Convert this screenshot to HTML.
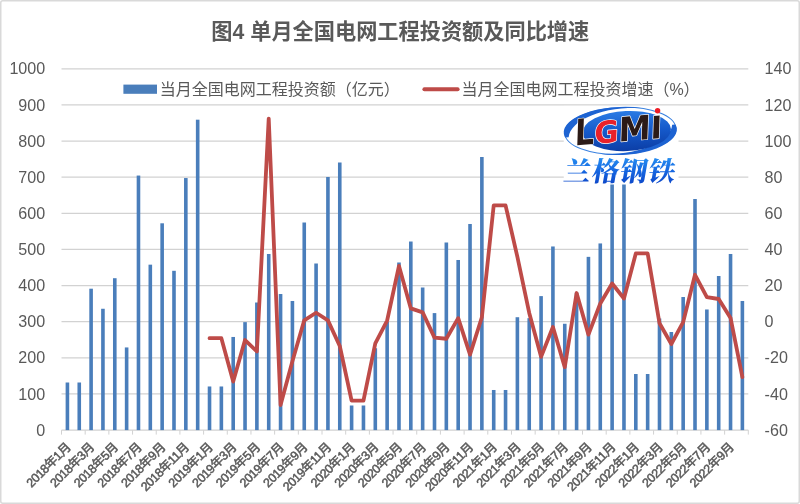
<!DOCTYPE html>
<html lang="zh-CN"><head><meta charset="utf-8"><title>图4 单月全国电网工程投资额及同比增速</title>
<style>
html,body{margin:0;padding:0;background:#fff;}
body{width:800px;height:504px;overflow:hidden;}
svg{display:block;}
</style></head><body>
<svg width="800" height="504" viewBox="0 0 800 504" font-family='"Liberation Sans","Noto Sans CJK SC",sans-serif'>
<rect x="0.75" y="0.75" width="798.5" height="502.5" rx="2" fill="#fff" stroke="#d9d9d9" stroke-width="1.5"/>
<line x1="61.5" x2="748.3" y1="430.10" y2="430.10" stroke="#d2d2d2" stroke-width="1.25"/>
<line x1="61.5" x2="748.3" y1="393.97" y2="393.97" stroke="#d2d2d2" stroke-width="1.25"/>
<line x1="61.5" x2="748.3" y1="357.84" y2="357.84" stroke="#d2d2d2" stroke-width="1.25"/>
<line x1="61.5" x2="748.3" y1="321.71" y2="321.71" stroke="#d2d2d2" stroke-width="1.25"/>
<line x1="61.5" x2="748.3" y1="285.58" y2="285.58" stroke="#d2d2d2" stroke-width="1.25"/>
<line x1="61.5" x2="748.3" y1="249.45" y2="249.45" stroke="#d2d2d2" stroke-width="1.25"/>
<line x1="61.5" x2="748.3" y1="213.32" y2="213.32" stroke="#d2d2d2" stroke-width="1.25"/>
<line x1="61.5" x2="748.3" y1="177.19" y2="177.19" stroke="#d2d2d2" stroke-width="1.25"/>
<line x1="61.5" x2="748.3" y1="141.06" y2="141.06" stroke="#d2d2d2" stroke-width="1.25"/>
<line x1="61.5" x2="748.3" y1="104.93" y2="104.93" stroke="#d2d2d2" stroke-width="1.25"/>
<line x1="61.5" x2="748.3" y1="68.80" y2="68.80" stroke="#d2d2d2" stroke-width="1.25"/>
<line x1="61.50" x2="61.50" y1="430.1" y2="434.6" stroke="#d2d2d2" stroke-width="1"/>
<line x1="85.18" x2="85.18" y1="430.1" y2="434.6" stroke="#d2d2d2" stroke-width="1"/>
<line x1="108.87" x2="108.87" y1="430.1" y2="434.6" stroke="#d2d2d2" stroke-width="1"/>
<line x1="132.55" x2="132.55" y1="430.1" y2="434.6" stroke="#d2d2d2" stroke-width="1"/>
<line x1="156.23" x2="156.23" y1="430.1" y2="434.6" stroke="#d2d2d2" stroke-width="1"/>
<line x1="179.91" x2="179.91" y1="430.1" y2="434.6" stroke="#d2d2d2" stroke-width="1"/>
<line x1="203.60" x2="203.60" y1="430.1" y2="434.6" stroke="#d2d2d2" stroke-width="1"/>
<line x1="227.28" x2="227.28" y1="430.1" y2="434.6" stroke="#d2d2d2" stroke-width="1"/>
<line x1="250.96" x2="250.96" y1="430.1" y2="434.6" stroke="#d2d2d2" stroke-width="1"/>
<line x1="274.64" x2="274.64" y1="430.1" y2="434.6" stroke="#d2d2d2" stroke-width="1"/>
<line x1="298.33" x2="298.33" y1="430.1" y2="434.6" stroke="#d2d2d2" stroke-width="1"/>
<line x1="322.01" x2="322.01" y1="430.1" y2="434.6" stroke="#d2d2d2" stroke-width="1"/>
<line x1="345.69" x2="345.69" y1="430.1" y2="434.6" stroke="#d2d2d2" stroke-width="1"/>
<line x1="369.38" x2="369.38" y1="430.1" y2="434.6" stroke="#d2d2d2" stroke-width="1"/>
<line x1="393.06" x2="393.06" y1="430.1" y2="434.6" stroke="#d2d2d2" stroke-width="1"/>
<line x1="416.74" x2="416.74" y1="430.1" y2="434.6" stroke="#d2d2d2" stroke-width="1"/>
<line x1="440.42" x2="440.42" y1="430.1" y2="434.6" stroke="#d2d2d2" stroke-width="1"/>
<line x1="464.11" x2="464.11" y1="430.1" y2="434.6" stroke="#d2d2d2" stroke-width="1"/>
<line x1="487.79" x2="487.79" y1="430.1" y2="434.6" stroke="#d2d2d2" stroke-width="1"/>
<line x1="511.47" x2="511.47" y1="430.1" y2="434.6" stroke="#d2d2d2" stroke-width="1"/>
<line x1="535.16" x2="535.16" y1="430.1" y2="434.6" stroke="#d2d2d2" stroke-width="1"/>
<line x1="558.84" x2="558.84" y1="430.1" y2="434.6" stroke="#d2d2d2" stroke-width="1"/>
<line x1="582.52" x2="582.52" y1="430.1" y2="434.6" stroke="#d2d2d2" stroke-width="1"/>
<line x1="606.20" x2="606.20" y1="430.1" y2="434.6" stroke="#d2d2d2" stroke-width="1"/>
<line x1="629.89" x2="629.89" y1="430.1" y2="434.6" stroke="#d2d2d2" stroke-width="1"/>
<line x1="653.57" x2="653.57" y1="430.1" y2="434.6" stroke="#d2d2d2" stroke-width="1"/>
<line x1="677.25" x2="677.25" y1="430.1" y2="434.6" stroke="#d2d2d2" stroke-width="1"/>
<line x1="700.93" x2="700.93" y1="430.1" y2="434.6" stroke="#d2d2d2" stroke-width="1"/>
<line x1="724.62" x2="724.62" y1="430.1" y2="434.6" stroke="#d2d2d2" stroke-width="1"/>
<line x1="748.30" x2="748.30" y1="430.1" y2="434.6" stroke="#d2d2d2" stroke-width="1"/>
<rect x="65.62" y="382.50" width="3.6" height="47.60" fill="#4a7ebb"/>
<rect x="77.46" y="382.50" width="3.6" height="47.60" fill="#4a7ebb"/>
<rect x="89.30" y="288.70" width="3.6" height="141.40" fill="#4a7ebb"/>
<rect x="101.14" y="308.76" width="3.6" height="121.34" fill="#4a7ebb"/>
<rect x="112.99" y="278.21" width="3.6" height="151.89" fill="#4a7ebb"/>
<rect x="124.83" y="347.44" width="3.6" height="82.66" fill="#4a7ebb"/>
<rect x="136.67" y="175.55" width="3.6" height="254.55" fill="#4a7ebb"/>
<rect x="148.51" y="264.66" width="3.6" height="165.44" fill="#4a7ebb"/>
<rect x="160.35" y="223.30" width="3.6" height="206.80" fill="#4a7ebb"/>
<rect x="172.19" y="270.80" width="3.6" height="159.30" fill="#4a7ebb"/>
<rect x="184.03" y="178.04" width="3.6" height="252.06" fill="#4a7ebb"/>
<rect x="195.88" y="119.69" width="3.6" height="310.41" fill="#4a7ebb"/>
<rect x="207.72" y="386.48" width="3.6" height="43.62" fill="#4a7ebb"/>
<rect x="219.56" y="386.48" width="3.6" height="43.62" fill="#4a7ebb"/>
<rect x="231.40" y="336.96" width="3.6" height="93.14" fill="#4a7ebb"/>
<rect x="243.24" y="322.13" width="3.6" height="107.97" fill="#4a7ebb"/>
<rect x="255.08" y="302.51" width="3.6" height="127.59" fill="#4a7ebb"/>
<rect x="266.92" y="253.99" width="3.6" height="176.11" fill="#4a7ebb"/>
<rect x="278.77" y="294.01" width="3.6" height="136.09" fill="#4a7ebb"/>
<rect x="290.61" y="300.99" width="3.6" height="129.11" fill="#4a7ebb"/>
<rect x="302.45" y="222.51" width="3.6" height="207.59" fill="#4a7ebb"/>
<rect x="314.29" y="263.50" width="3.6" height="166.60" fill="#4a7ebb"/>
<rect x="326.13" y="176.99" width="3.6" height="253.11" fill="#4a7ebb"/>
<rect x="337.97" y="162.50" width="3.6" height="267.60" fill="#4a7ebb"/>
<rect x="349.81" y="405.50" width="3.6" height="24.60" fill="#4a7ebb"/>
<rect x="361.66" y="405.50" width="3.6" height="24.60" fill="#4a7ebb"/>
<rect x="373.50" y="348.23" width="3.6" height="81.87" fill="#4a7ebb"/>
<rect x="385.34" y="321.77" width="3.6" height="108.33" fill="#4a7ebb"/>
<rect x="397.18" y="262.49" width="3.6" height="167.61" fill="#4a7ebb"/>
<rect x="409.02" y="241.52" width="3.6" height="188.58" fill="#4a7ebb"/>
<rect x="420.86" y="287.50" width="3.6" height="142.60" fill="#4a7ebb"/>
<rect x="432.70" y="313.10" width="3.6" height="117.00" fill="#4a7ebb"/>
<rect x="444.54" y="242.50" width="3.6" height="187.60" fill="#4a7ebb"/>
<rect x="456.39" y="259.99" width="3.6" height="170.11" fill="#4a7ebb"/>
<rect x="468.23" y="223.99" width="3.6" height="206.11" fill="#4a7ebb"/>
<rect x="480.07" y="157.00" width="3.6" height="273.10" fill="#4a7ebb"/>
<rect x="491.91" y="389.99" width="3.6" height="40.11" fill="#4a7ebb"/>
<rect x="503.75" y="389.99" width="3.6" height="40.11" fill="#4a7ebb"/>
<rect x="515.59" y="317.22" width="3.6" height="112.88" fill="#4a7ebb"/>
<rect x="527.43" y="318.16" width="3.6" height="111.94" fill="#4a7ebb"/>
<rect x="539.28" y="296.11" width="3.6" height="133.99" fill="#4a7ebb"/>
<rect x="551.12" y="246.47" width="3.6" height="183.63" fill="#4a7ebb"/>
<rect x="562.96" y="323.76" width="3.6" height="106.34" fill="#4a7ebb"/>
<rect x="574.80" y="292.85" width="3.6" height="137.25" fill="#4a7ebb"/>
<rect x="586.64" y="256.85" width="3.6" height="173.25" fill="#4a7ebb"/>
<rect x="598.48" y="243.44" width="3.6" height="186.66" fill="#4a7ebb"/>
<rect x="610.32" y="181.15" width="3.6" height="248.95" fill="#4a7ebb"/>
<rect x="622.17" y="122.95" width="3.6" height="307.15" fill="#4a7ebb"/>
<rect x="634.01" y="374.01" width="3.6" height="56.09" fill="#4a7ebb"/>
<rect x="645.85" y="374.01" width="3.6" height="56.09" fill="#4a7ebb"/>
<rect x="657.69" y="318.52" width="3.6" height="111.58" fill="#4a7ebb"/>
<rect x="669.53" y="332.00" width="3.6" height="98.10" fill="#4a7ebb"/>
<rect x="681.37" y="297.01" width="3.6" height="133.09" fill="#4a7ebb"/>
<rect x="693.21" y="199.01" width="3.6" height="231.09" fill="#4a7ebb"/>
<rect x="705.06" y="309.48" width="3.6" height="120.62" fill="#4a7ebb"/>
<rect x="716.90" y="276.01" width="3.6" height="154.09" fill="#4a7ebb"/>
<rect x="728.74" y="253.99" width="3.6" height="176.11" fill="#4a7ebb"/>
<rect x="740.58" y="300.99" width="3.6" height="129.11" fill="#4a7ebb"/>
<polyline points="209.52,338.22 221.36,338.22 233.20,381.60 245.04,340.03 256.88,351.42 268.72,118.61 280.57,405.10 292.41,361.36 304.25,320.33 316.09,312.74 327.93,320.33 339.77,345.99 351.61,400.58 363.46,400.58 375.30,343.46 387.14,320.51 398.98,265.92 410.82,308.40 422.66,312.37 434.50,337.68 446.34,338.76 458.19,318.16 470.03,354.67 481.87,317.25 493.71,205.37 505.55,205.37 517.39,256.88 529.23,312.92 541.08,356.84 552.92,327.01 564.76,367.14 576.60,293.03 588.44,334.61 600.28,303.52 612.12,283.45 623.97,298.46 635.81,253.45 647.65,253.45 659.49,323.22 671.33,344.01 683.17,322.13 695.01,274.78 706.86,297.19 718.70,299.00 730.54,317.98 742.38,377.08" fill="none" stroke="#be4b48" stroke-width="3.8" stroke-linejoin="round" stroke-linecap="round"/>
<text x="45.2" y="435.70" text-anchor="end" font-size="16.1" fill="#595959">0</text>
<text x="45.2" y="399.57" text-anchor="end" font-size="16.1" fill="#595959">100</text>
<text x="45.2" y="363.44" text-anchor="end" font-size="16.1" fill="#595959">200</text>
<text x="45.2" y="327.31" text-anchor="end" font-size="16.1" fill="#595959">300</text>
<text x="45.2" y="291.18" text-anchor="end" font-size="16.1" fill="#595959">400</text>
<text x="45.2" y="255.05" text-anchor="end" font-size="16.1" fill="#595959">500</text>
<text x="45.2" y="218.92" text-anchor="end" font-size="16.1" fill="#595959">600</text>
<text x="45.2" y="182.79" text-anchor="end" font-size="16.1" fill="#595959">700</text>
<text x="45.2" y="146.66" text-anchor="end" font-size="16.1" fill="#595959">800</text>
<text x="45.2" y="110.53" text-anchor="end" font-size="16.1" fill="#595959">900</text>
<text x="45.2" y="74.40" text-anchor="end" font-size="16.1" fill="#595959">1000</text>
<text x="764.6" y="435.70" font-size="16.1" fill="#595959">-60</text>
<text x="764.6" y="399.57" font-size="16.1" fill="#595959">-40</text>
<text x="764.6" y="363.44" font-size="16.1" fill="#595959">-20</text>
<text x="764.6" y="327.31" font-size="16.1" fill="#595959">0</text>
<text x="764.6" y="291.18" font-size="16.1" fill="#595959">20</text>
<text x="764.6" y="255.05" font-size="16.1" fill="#595959">40</text>
<text x="764.6" y="218.92" font-size="16.1" fill="#595959">60</text>
<text x="764.6" y="182.79" font-size="16.1" fill="#595959">80</text>
<text x="764.6" y="146.66" font-size="16.1" fill="#595959">100</text>
<text x="764.6" y="110.53" font-size="16.1" fill="#595959">120</text>
<text x="764.6" y="74.40" font-size="16.1" fill="#595959">140</text>
<text transform="translate(71.42,448.0) rotate(-45)" text-anchor="end" font-size="12.4" letter-spacing="-0.4" fill="#595959" stroke="#595959" stroke-width="0.5">2018年1月</text>
<text transform="translate(95.10,448.0) rotate(-45)" text-anchor="end" font-size="12.4" letter-spacing="-0.4" fill="#595959" stroke="#595959" stroke-width="0.5">2018年3月</text>
<text transform="translate(118.79,448.0) rotate(-45)" text-anchor="end" font-size="12.4" letter-spacing="-0.4" fill="#595959" stroke="#595959" stroke-width="0.5">2018年5月</text>
<text transform="translate(142.47,448.0) rotate(-45)" text-anchor="end" font-size="12.4" letter-spacing="-0.4" fill="#595959" stroke="#595959" stroke-width="0.5">2018年7月</text>
<text transform="translate(166.15,448.0) rotate(-45)" text-anchor="end" font-size="12.4" letter-spacing="-0.4" fill="#595959" stroke="#595959" stroke-width="0.5">2018年9月</text>
<text transform="translate(189.83,448.0) rotate(-45)" text-anchor="end" font-size="12.4" letter-spacing="-0.4" fill="#595959" stroke="#595959" stroke-width="0.5">2018年11月</text>
<text transform="translate(213.52,448.0) rotate(-45)" text-anchor="end" font-size="12.4" letter-spacing="-0.4" fill="#595959" stroke="#595959" stroke-width="0.5">2019年1月</text>
<text transform="translate(237.20,448.0) rotate(-45)" text-anchor="end" font-size="12.4" letter-spacing="-0.4" fill="#595959" stroke="#595959" stroke-width="0.5">2019年3月</text>
<text transform="translate(260.88,448.0) rotate(-45)" text-anchor="end" font-size="12.4" letter-spacing="-0.4" fill="#595959" stroke="#595959" stroke-width="0.5">2019年5月</text>
<text transform="translate(284.57,448.0) rotate(-45)" text-anchor="end" font-size="12.4" letter-spacing="-0.4" fill="#595959" stroke="#595959" stroke-width="0.5">2019年7月</text>
<text transform="translate(308.25,448.0) rotate(-45)" text-anchor="end" font-size="12.4" letter-spacing="-0.4" fill="#595959" stroke="#595959" stroke-width="0.5">2019年9月</text>
<text transform="translate(331.93,448.0) rotate(-45)" text-anchor="end" font-size="12.4" letter-spacing="-0.4" fill="#595959" stroke="#595959" stroke-width="0.5">2019年11月</text>
<text transform="translate(355.61,448.0) rotate(-45)" text-anchor="end" font-size="12.4" letter-spacing="-0.4" fill="#595959" stroke="#595959" stroke-width="0.5">2020年1月</text>
<text transform="translate(379.30,448.0) rotate(-45)" text-anchor="end" font-size="12.4" letter-spacing="-0.4" fill="#595959" stroke="#595959" stroke-width="0.5">2020年3月</text>
<text transform="translate(402.98,448.0) rotate(-45)" text-anchor="end" font-size="12.4" letter-spacing="-0.4" fill="#595959" stroke="#595959" stroke-width="0.5">2020年5月</text>
<text transform="translate(426.66,448.0) rotate(-45)" text-anchor="end" font-size="12.4" letter-spacing="-0.4" fill="#595959" stroke="#595959" stroke-width="0.5">2020年7月</text>
<text transform="translate(450.34,448.0) rotate(-45)" text-anchor="end" font-size="12.4" letter-spacing="-0.4" fill="#595959" stroke="#595959" stroke-width="0.5">2020年9月</text>
<text transform="translate(474.03,448.0) rotate(-45)" text-anchor="end" font-size="12.4" letter-spacing="-0.4" fill="#595959" stroke="#595959" stroke-width="0.5">2020年11月</text>
<text transform="translate(497.71,448.0) rotate(-45)" text-anchor="end" font-size="12.4" letter-spacing="-0.4" fill="#595959" stroke="#595959" stroke-width="0.5">2021年1月</text>
<text transform="translate(521.39,448.0) rotate(-45)" text-anchor="end" font-size="12.4" letter-spacing="-0.4" fill="#595959" stroke="#595959" stroke-width="0.5">2021年3月</text>
<text transform="translate(545.08,448.0) rotate(-45)" text-anchor="end" font-size="12.4" letter-spacing="-0.4" fill="#595959" stroke="#595959" stroke-width="0.5">2021年5月</text>
<text transform="translate(568.76,448.0) rotate(-45)" text-anchor="end" font-size="12.4" letter-spacing="-0.4" fill="#595959" stroke="#595959" stroke-width="0.5">2021年7月</text>
<text transform="translate(592.44,448.0) rotate(-45)" text-anchor="end" font-size="12.4" letter-spacing="-0.4" fill="#595959" stroke="#595959" stroke-width="0.5">2021年9月</text>
<text transform="translate(616.12,448.0) rotate(-45)" text-anchor="end" font-size="12.4" letter-spacing="-0.4" fill="#595959" stroke="#595959" stroke-width="0.5">2021年11月</text>
<text transform="translate(639.81,448.0) rotate(-45)" text-anchor="end" font-size="12.4" letter-spacing="-0.4" fill="#595959" stroke="#595959" stroke-width="0.5">2022年1月</text>
<text transform="translate(663.49,448.0) rotate(-45)" text-anchor="end" font-size="12.4" letter-spacing="-0.4" fill="#595959" stroke="#595959" stroke-width="0.5">2022年3月</text>
<text transform="translate(687.17,448.0) rotate(-45)" text-anchor="end" font-size="12.4" letter-spacing="-0.4" fill="#595959" stroke="#595959" stroke-width="0.5">2022年5月</text>
<text transform="translate(710.86,448.0) rotate(-45)" text-anchor="end" font-size="12.4" letter-spacing="-0.4" fill="#595959" stroke="#595959" stroke-width="0.5">2022年7月</text>
<text transform="translate(734.54,448.0) rotate(-45)" text-anchor="end" font-size="12.4" letter-spacing="-0.4" fill="#595959" stroke="#595959" stroke-width="0.5">2022年9月</text>
<text x="400.3" y="39.4" text-anchor="middle" font-size="21.2" font-weight="bold" fill="#595959">图4 单月全国电网工程投资额及同比增速</text>
<rect x="123.4" y="84.6" width="33.6" height="9.2" fill="#4a7ebb"/>
<text x="159.8" y="95.2" font-size="16" fill="#595959">当月全国电网工程投资额（亿元）</text>
<line x1="424.4" x2="457.6" y1="89.3" y2="89.3" stroke="#be4b48" stroke-width="4" stroke-linecap="round"/>
<text x="461.4" y="95.2" font-size="16" fill="#595959">当月全国电网工程投资增速（%）</text>
<defs>
<linearGradient id="lgE" x1="0" y1="0" x2="0" y2="1"><stop offset="0" stop-color="#2b7be4"/><stop offset="0.5" stop-color="#1559ca"/><stop offset="1" stop-color="#0c3ea6"/></linearGradient>
<linearGradient id="lgT" x1="0" y1="0" x2="0" y2="1"><stop offset="0" stop-color="#2fa4fa"/><stop offset="0.55" stop-color="#1565e0"/><stop offset="1" stop-color="#0a3cc0"/></linearGradient>
</defs>
<rect x="563.75" y="105.9" width="114.75" height="78.6" fill="#fff"/>
<g transform="rotate(-2.5 621 131)">
<ellipse cx="620.3" cy="130.8" rx="55.6" ry="23.4" fill="none" stroke="#3b82e0" stroke-width="1"/>
<path d="M564.8 135 A55.6 23.4 0 0 1 642 109 A61 28 0 0 0 568.4 135 Z" fill="#1d63d2"/>
<path d="M675.8 127 A55.6 23.4 0 0 1 598 152.8 A61 28 0 0 0 672.4 127 Z" fill="#1d63d2"/>
<ellipse cx="626.7" cy="131.3" rx="44.3" ry="20" fill="url(#lgE)"/>
</g>
<text transform="translate(574.6,145.6) rotate(-5) skewX(-7)" font-family='"DejaVu Sans","Liberation Sans",sans-serif' font-weight="bold" stroke="#fff" stroke-width="1.3" paint-order="stroke" stroke-linejoin="round"><tspan font-size="36" textLength="19.4" lengthAdjust="spacingAndGlyphs" fill="#2b1a17">L</tspan><tspan font-size="30.5" textLength="24.4" lengthAdjust="spacingAndGlyphs" fill="#e8212b">G</tspan><tspan font-size="33.5" textLength="32.2" lengthAdjust="spacingAndGlyphs" fill="#2b1a17">M</tspan><tspan font-size="31" textLength="11.5" lengthAdjust="spacingAndGlyphs" fill="#2b1a17">I</tspan></text>
<circle cx="657.6" cy="110.8" r="2.7" fill="#ee1c25"/>
<g transform="translate(562.5,181) skewX(-10)">
<text x="0" y="0" font-family='"Noto Serif CJK SC","Liberation Serif",serif' font-weight="900" font-size="27" letter-spacing="1.2" fill="url(#lgT)">兰格钢铁</text>
</g>

</svg>
</body></html>
